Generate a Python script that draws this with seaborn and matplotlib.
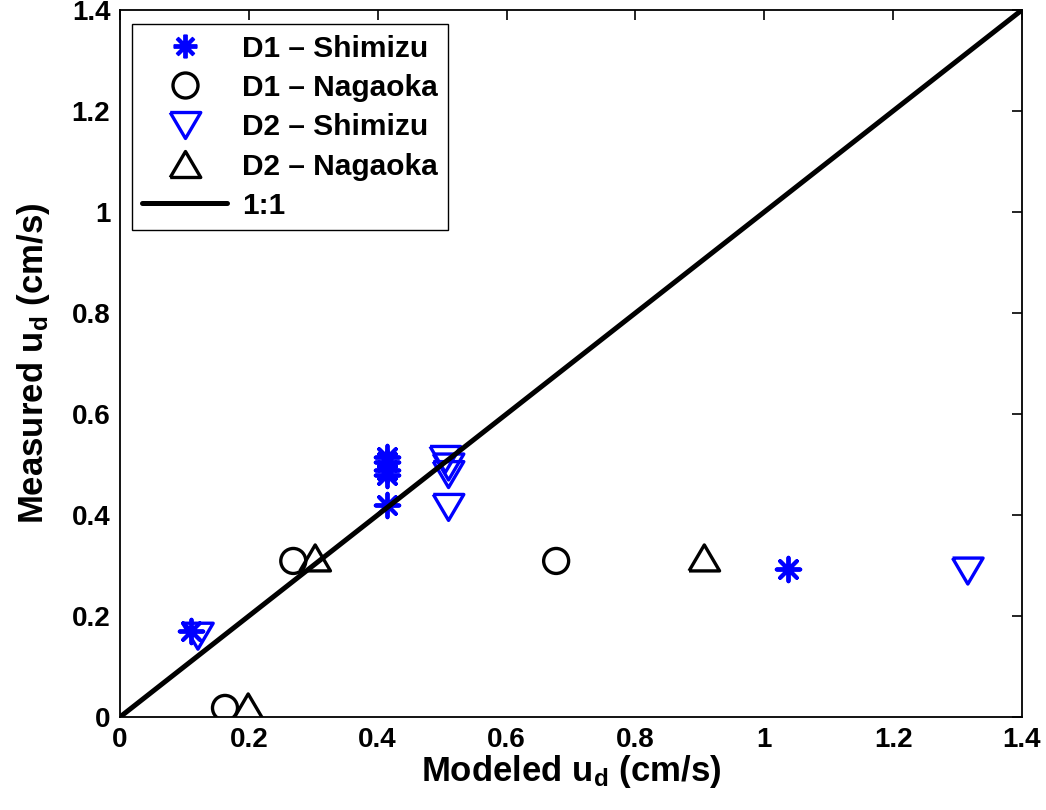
import matplotlib
matplotlib.use("Agg")
import matplotlib.pyplot as plt
import seaborn as sns
from matplotlib.lines import Line2D

# Data (cm/s)
d1_shimizu_x = [0.11, 0.415, 0.415, 0.415, 0.415, 0.415, 1.037]
d1_shimizu_y = [0.17, 0.515, 0.505, 0.49, 0.48, 0.42, 0.293]
d1_nagaoka_x = [0.163, 0.269, 0.677]
d1_nagaoka_y = [0.018, 0.309, 0.309]
d2_shimizu_x = [0.121, 0.505, 0.51, 0.51, 0.51, 1.316]
d2_shimizu_y = [0.16, 0.51, 0.495, 0.48, 0.415, 0.289]
d2_nagaoka_x = [0.199, 0.303, 0.907]
d2_nagaoka_y = [0.02, 0.315, 0.315]
line_x = [0, 1.4]
line_y = [0, 1.4]
labels = ["D1 \u2013 Shimizu", "D1 \u2013 Nagaoka", "D2 \u2013 Shimizu", "D2 \u2013 Nagaoka", "1:1"]
ticks = [0, 0.2, 0.4, 0.6, 0.8, 1, 1.2, 1.4]
tick_labels = ["0", "0.2", "0.4", "0.6", "0.8", "1", "1.2", "1.4"]

sns.set_style("white")
plt.rcParams['font.family'] = ['Liberation Sans', 'DejaVu Sans']
plt.rcParams['font.weight'] = 'bold'
plt.rcParams['mathtext.fontset'] = 'custom'
plt.rcParams['mathtext.rm'] = 'Liberation Sans:bold'
plt.rcParams['mathtext.bf'] = 'Liberation Sans:bold'
plt.rcParams['mathtext.it'] = 'Liberation Sans:bold'
for key in ['text.color', 'axes.labelcolor', 'xtick.color', 'ytick.color']:
    plt.rcParams[key] = 'black'

fig = plt.figure(figsize=(10.46, 8.10), dpi=100)
ax = fig.add_axes([0.1147, 0.1148, 0.977 - 0.1147, 0.9877 - 0.1148])

blue = '#0000FF'
ast = (8, 2, 0)
tri_down = [(-1, 0.85), (1, 0.85), (0, -0.85), (-1, 0.85)]
tri_up = [(-1, -0.85), (1, -0.85), (0, 0.85), (-1, -0.85)]
lw = 2.4

sns.scatterplot(x=d1_shimizu_x, y=d1_shimizu_y, ax=ax, marker=ast, s=17**2,
                color=blue, edgecolor=blue, linewidth=2.8, zorder=3)
sns.scatterplot(x=d1_nagaoka_x, y=d1_nagaoka_y, ax=ax, marker='o', s=18**2,
                facecolor='none', edgecolor='black', linewidth=lw, zorder=3)
sns.scatterplot(x=d2_shimizu_x, y=d2_shimizu_y, ax=ax, marker=tri_down, s=22**2,
                facecolor='none', edgecolor=blue, linewidth=lw, zorder=3)
sns.scatterplot(x=d2_nagaoka_x, y=d2_nagaoka_y, ax=ax, marker=tri_up, s=22**2,
                facecolor='none', edgecolor='black', linewidth=lw, zorder=3)
sns.lineplot(x=line_x, y=line_y, ax=ax, color='black', linewidth=3.6, zorder=4)

ax.set_xlim(0, 1.4)
ax.set_ylim(0, 1.4)
ax.set_xticks(ticks)
ax.set_xticklabels(tick_labels)
ax.set_yticks(ticks)
ax.set_yticklabels(tick_labels)
ax.tick_params(direction='in', length=7, width=1.2, top=True, right=True,
               labelsize=20, pad=7, colors='black')
for lab in ax.get_xticklabels() + ax.get_yticklabels():
    lab.set_fontweight('bold')
for sp in ax.spines.values():
    sp.set_linewidth(1.3)
    sp.set_color('black')

ax.set_xlabel(r"Modeled u$_\mathbf{d}$ (cm/s)", fontsize=25, fontweight='bold', labelpad=0, color='black')
ax.set_ylabel(r"Measured u$_\mathbf{d}$ (cm/s)", fontsize=25, fontweight='bold', labelpad=14, color='black')

handles = [
    Line2D([], [], linestyle='none', marker=ast, markersize=17, color=blue, markeredgewidth=2.8),
    Line2D([], [], linestyle='none', marker='o', markersize=18, markerfacecolor='none', markeredgecolor='black', markeredgewidth=lw),
    Line2D([], [], linestyle='none', marker=tri_down, markersize=22, markerfacecolor='none', markeredgecolor=blue, markeredgewidth=lw),
    Line2D([], [], linestyle='none', marker=tri_up, markersize=22, markerfacecolor='none', markeredgecolor='black', markeredgewidth=lw),
    Line2D([], [], color='black', linewidth=3.6),
]
leg = ax.legend(handles, labels, loc='upper left', bbox_to_anchor=(0.013, 0.98),
                fontsize=21.5, frameon=True, fancybox=False, framealpha=1,
                edgecolor='black', borderpad=0.35, labelspacing=0.38,
                handlelength=2.85, handletextpad=0.5, borderaxespad=0)
leg.get_frame().set_linewidth(1.0)
for t in leg.get_texts():
    t.set_fontweight('bold')
    t.set_color('black')

fig.savefig("out.png", dpi=100)
